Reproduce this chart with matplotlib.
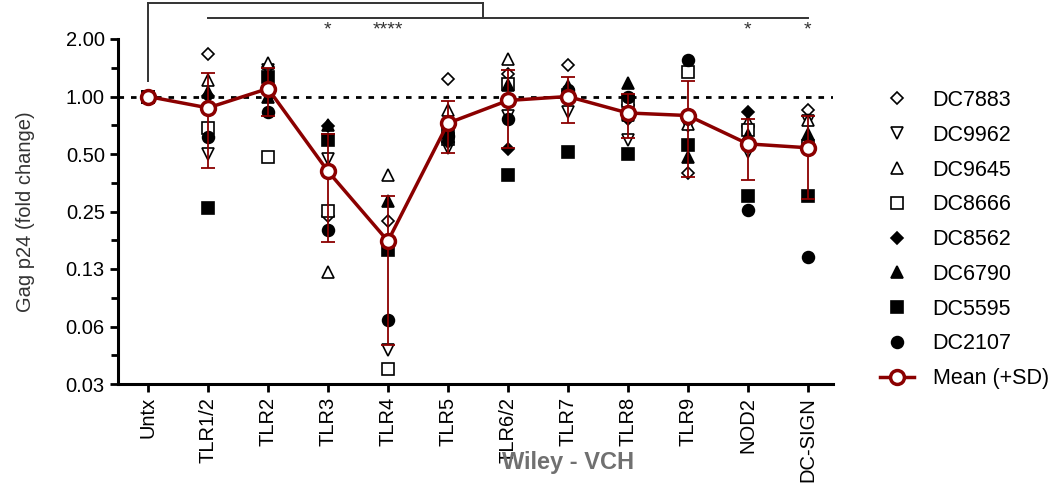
import numpy as np
import matplotlib
matplotlib.use("Agg")
import matplotlib.pyplot as plt
from matplotlib.lines import Line2D

plt.rcParams['font.family'] = ['Liberation Sans', 'DejaVu Sans']

# categories on the x axis
categories = ["Untx", "TLR1/2", "TLR2", "TLR3", "TLR4", "TLR5", "TLR6/2",
              "TLR7", "TLR8", "TLR9", "NOD2", "DC-SIGN"]

# fold change per donor
dc7883 = [1.0, 1.67, 1.42, 0.238, 0.224, 1.24, 1.31, 1.47, 0.90, 0.40, 0.70, 0.85]
dc9962 = [1.0, 0.50, 1.38, 0.47, 0.047, 0.54, 0.79, 0.83, 0.59, 0.70, 0.51, 0.74]
dc9645 = [1.0, 1.22, 1.50, 0.12, 0.386, 0.85, 1.575, 1.05, 0.80, 0.72, 0.733, 0.755]
dc8666 = [1.0, 0.686, 0.48, 0.253, 0.0375, 0.60, 1.165, 1.02, 0.95, 1.34, 0.664, 0.55]
dc8562 = [1.0, 1.01, 1.05, 0.70, 0.17, 0.58, 0.533, 1.0, 0.76, 0.75, 0.83, 0.55]
dc6790 = [1.0, 1.05, 1.0, 0.705, 0.283, 0.65, 1.15, 1.14, 1.17, 0.485, 0.63, 0.638]
dc5595 = [1.0, 0.26, 1.27, 0.59, 0.157, 0.66, 0.389, 0.51, 0.50, 0.56, 0.303, 0.303]
dc2107 = [1.0, 0.612, 0.83, 0.20, 0.068, 0.62, 0.764, 1.08, 1.0, 1.56, 0.255, 0.144]

# mean and SD
mean_vals = [1.0, 0.872, 1.10, 0.406, 0.175, 0.725, 0.953, 1.0, 0.82, 0.795, 0.565, 0.539]
sd_vals = [0.0, 0.448, 0.31, 0.232, 0.125, 0.22, 0.417, 0.27, 0.21, 0.415, 0.199, 0.247]

ytick_vals = [2**-5, 2**-4, 2**-3, 2**-2, 2**-1, 1, 2]
ytick_labels = ["0.03", "0.06", "0.13", "0.25", "0.50", "1.00", "2.00"]

# significance marks
sig_pos = [3, 4, 10, 11]
sig_text = ["*", "****", "*", "*"]

donor_series = [
    ("DC7883", dc7883, 'D', False),
    ("DC9962", dc9962, 'v', False),
    ("DC9645", dc9645, '^', False),
    ("DC8666", dc8666, 's', False),
    ("DC8562", dc8562, 'D', True),
    ("DC6790", dc6790, '^', True),
    ("DC5595", dc5595, 's', True),
    ("DC2107", dc2107, 'o', True),
]
msizes = {'D': 6.5, 'v': 8.5, '^': 8.5, 's': 8, 'o': 8.5}

red = '#8b0000'
x = np.arange(len(categories))

fig = plt.figure(figsize=(10.62, 4.87), dpi=100)
ax = fig.add_axes([118/1062, 1 - 384/487, (833-118)/1062, (384-39)/487])

handles = []
for name, vals, m, filled in donor_series:
    fc = 'black' if filled else 'white'
    ax.plot(x, vals, linestyle='none', marker=m, ms=msizes[m], mfc=fc,
            mec='black', mew=1.2, zorder=2)
    handles.append(Line2D([], [], linestyle='none', marker=m, ms=msizes[m],
                          mfc=fc, mec='black', mew=1.2))

ax.axhline(1.0, color='black', lw=2, linestyle=(0, (2, 2.5)), zorder=1)

ax.errorbar(x, mean_vals, yerr=sd_vals, fmt='none', ecolor=red, elinewidth=1.3,
            capsize=5, capthick=1.3, zorder=3)
ax.plot(x, mean_vals, color=red, lw=2.5, marker='o', ms=10, mfc='white',
        mec=red, mew=2.5, zorder=4)
handles.append(Line2D([], [], color=red, lw=2.5, marker='o', ms=10,
                      mfc='white', mec=red, mew=2.5))

ax.set_yscale('log', base=2)
ax.set_ylim(2**-5, 2)
ax.set_xlim(-0.5, 11.42)
ax.set_yticks(ytick_vals)
ax.set_yticklabels(ytick_labels)
ax.set_yticks([v * np.sqrt(2) for v in ytick_vals[:-1]], minor=True)
ax.yaxis.set_minor_formatter(plt.NullFormatter())
ax.set_xticks(x)
ax.set_xticklabels(categories, rotation=90)
ax.tick_params(axis='both', which='major', labelsize=14.5, length=6, width=2,
               colors='black')
ax.tick_params(axis='y', which='minor', length=5, width=2)
for s in ['top', 'right']:
    ax.spines[s].set_visible(False)
for s in ['left', 'bottom']:
    ax.spines[s].set_linewidth(2.2)

ax.set_ylabel("Gag p24 (fold change)", fontsize=14.5, color='#333333', labelpad=22)

# significance brackets
bk = dict(color='#333333', lw=1.4, clip_on=False, zorder=5)
ax.plot([0, 0], [1.21, 3.07], **bk)
ax.plot([0, 5.58], [3.07, 3.07], **bk)
ax.plot([5.58, 5.58], [3.07, 2.59], **bk)
ax.plot([1, 11], [2.59, 2.59], **bk)
for p, t in zip(sig_pos, sig_text):
    ax.text(p, 2.24, t, ha='center', va='center', fontsize=14, color='#333333')

leg = ax.legend(handles, [d[0] for d in donor_series] + ["Mean (+SD)"],
                loc='upper left', bbox_to_anchor=(880/1062, 1 - 90/487),
                bbox_transform=fig.transFigure, frameon=False, fontsize=15.5,
                labelspacing=0.64, handlelength=1.6, handletextpad=0.85,
                borderpad=0, borderaxespad=0)

fig.text(568/1062, 1 - 462/487, "Wiley - VCH", ha='center', va='center',
         fontsize=17, fontweight='bold', color='#707070',
         family=['Liberation Sans Narrow', 'Liberation Sans'])

fig.savefig("out.png", dpi=100)
